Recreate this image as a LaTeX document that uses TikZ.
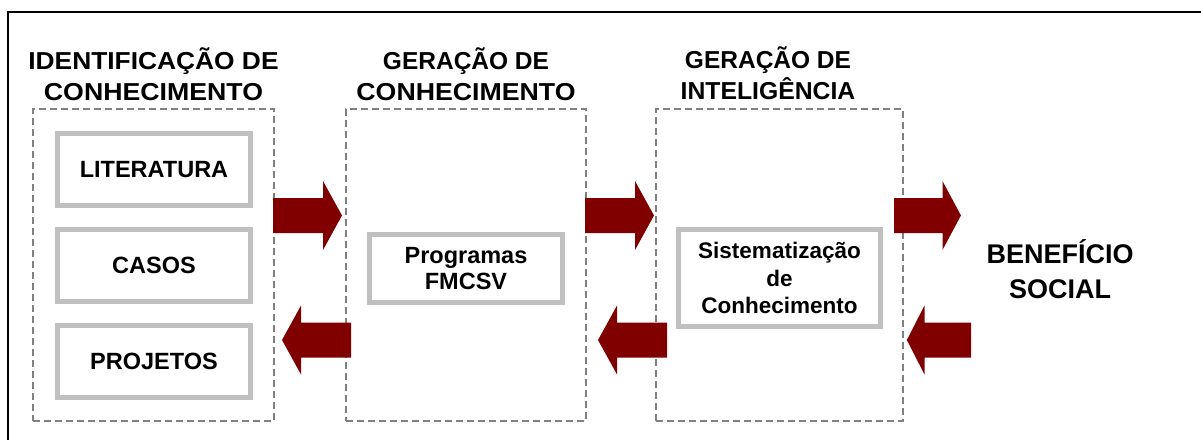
\documentclass[tikz,border=0pt]{standalone}
\usepackage{fontspec}
\usepackage{graphicx}
\setmainfont{Liberation Sans}
\definecolor{arrowred}{HTML}{800000}
\definecolor{boxgray}{HTML}{C0C0C0}
\definecolor{dashgray}{HTML}{808080}
\begin{document}
\begin{tikzpicture}[x=1pt,y=-1pt,
  group/.style={draw=dashgray,line width=1.5pt,dash pattern=on 7pt off 4pt,inner sep=0pt},
  itembox/.style={draw=boxgray,line width=5pt,fill=white,inner sep=0pt,align=center,
    font=\bfseries\fontsize{23.5}{26}\selectfont},
  title/.style={inner sep=0pt,anchor=base,font=\bfseries\fontsize{24.5}{31}\selectfont},
  bigtitle/.style={inner sep=0pt,anchor=base,font=\bfseries\fontsize{27}{35}\selectfont},
  bigarrow/.pic={\fill[arrowred] (0,-17.5) -- (50,-17.5) -- (50,-34.5) -- (69,0) -- (50,34.5) -- (50,17.5) -- (0,17.5) -- cycle;}
]
\useasboundingbox (0,0) rectangle (1201,439);
% frame (clipped on right and bottom)
\coordinate (fbl) at (8,445);
\coordinate (ftl) at (8,12);
\coordinate (ftr) at (1210,12);
\draw[line width=2pt] (fbl) -- (ftl) -- (ftr);

% group boxes
\node[group,minimum width=241pt,minimum height=312pt] (g1) at (153.5,265) {};
\node[group,minimum width=240pt,minimum height=312pt] (g2) at (466,265) {};
\node[group,minimum width=247pt,minimum height=312pt] (g3) at (779.5,265) {};

% titles
\node[title] (t1a) at (153.5,69) {\scalebox{1.075}[1]{IDENTIFICAÇÃO DE}};
\node[title] (t1b) at (153.5,100) {\scalebox{1.09}[1]{CONHECIMENTO}};
\node[title] (t2a) at (466,69) {GERAÇÃO DE};
\node[title] (t2b) at (466,100) {\scalebox{1.09}[1]{CONHECIMENTO}};
\node[title] (t3a) at (768,68) {GERAÇÃO DE};
\node[title] (t3b) at (768,99) {\scalebox{1.01}[1]{INTELIGÊNCIA}};

% items
\node[itembox,minimum width=193pt,minimum height=72pt] (lit) at (154,169.5) {LITERATURA};
\node[itembox,minimum width=193pt,minimum height=72pt] (cas) at (154,265.5) {CASOS};
\node[itembox,minimum width=193pt,minimum height=72pt] (pro) at (154,361.5) {PROJETOS};
\node[itembox,minimum width=193pt,minimum height=68pt] (prog) at (466,268.5) {Programas\\FMCSV};
\node[itembox,minimum width=202pt,minimum height=97pt,font=\bfseries\fontsize{22.5}{27.5}\selectfont] (sis) at (779.5,278) {Sistematização\\de\\Conhecimento};

% benefit
\node[bigtitle] (ben1) at (1060,263) {BENEFÍCIO};
\node[bigtitle] (ben2) at (1060,298) {SOCIAL};

% block arrows
\pic at (273,215.5) {bigarrow};
\pic at (585,215.5) {bigarrow};
\pic[xscale=0.97] at (894,215.5) {bigarrow};
\pic[xscale=-1] at (351,340) {bigarrow};
\pic[xscale=-1] at (667,340) {bigarrow};
\pic[xscale=-0.93] at (971,340) {bigarrow};
\end{tikzpicture}
\end{document}
